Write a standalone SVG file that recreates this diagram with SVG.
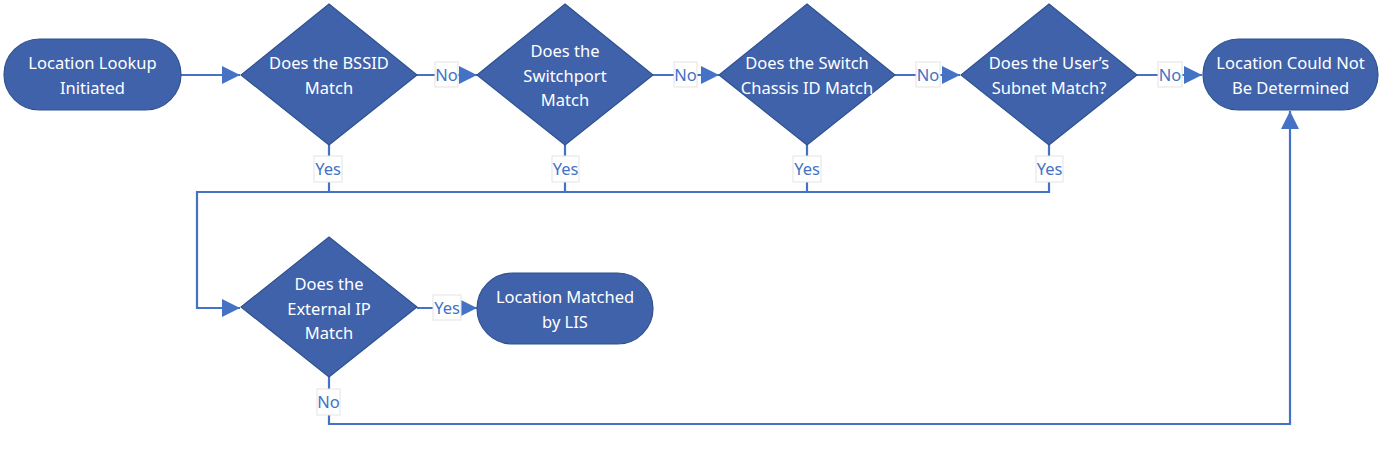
<svg xmlns="http://www.w3.org/2000/svg" width="1385" height="449" viewBox="0 0 1385 449">
<style>
.shape{fill:#3F62AB;stroke:#2F528F;stroke-width:1.2}
.t{fill:#fff;font-family:"Noto Sans","Open Sans",sans-serif;font-size:16.5px;text-anchor:middle}
.c{fill:none;stroke:#4472C4;stroke-width:2.2}
.lb{fill:#fff;stroke:#e3e3e3;stroke-width:1}
.lt{fill:#4472C4;font-family:"Noto Sans","Open Sans",sans-serif;font-size:16.5px;text-anchor:middle}
</style>
<defs>
<marker id="a" viewBox="0 0 18 18" refX="18" refY="9" markerWidth="18" markerHeight="18" markerUnits="userSpaceOnUse" orient="auto">
<path d="M0,0 L18,9 L0,18 z" fill="#4472C4"/>
</marker>
</defs>
<g id="connectors">
<path class="c" d="M181,75 H240" marker-end="url(#a)"/>
<path class="c" d="M417,75 H477" marker-end="url(#a)"/>
<path class="c" d="M653,75 H719" marker-end="url(#a)"/>
<path class="c" d="M895,75 H960" marker-end="url(#a)"/>
<path class="c" d="M1137,75 H1202" marker-end="url(#a)"/>
<path class="c" d="M329,145 V192"/>
<path class="c" d="M565,145 V192"/>
<path class="c" d="M807,145 V192"/>
<path class="c" d="M1049,145 V192 H197 V308 H240" marker-end="url(#a)"/>
<path class="c" d="M417,308 H477" marker-end="url(#a)"/>
<path class="c" d="M329,377 V424 H1290 V111" marker-end="url(#a)"/>
<rect class="lb" x="435" y="62" width="23" height="25"/><text class="lt" x="446.5" y="81">No</text>
<rect class="lb" x="674" y="62" width="23" height="25"/><text class="lt" x="685.5" y="81">No</text>
<rect class="lb" x="916" y="62" width="24" height="25"/><text class="lt" x="928" y="81">No</text>
<rect class="lb" x="1158" y="62" width="24" height="25"/><text class="lt" x="1170" y="81">No</text>
<rect class="lb" x="314" y="156" width="28" height="26"/><text class="lt" x="328" y="175">Yes</text>
<rect class="lb" x="552" y="156" width="27" height="26"/><text class="lt" x="565.5" y="175">Yes</text>
<rect class="lb" x="793" y="156" width="28" height="26"/><text class="lt" x="807" y="175">Yes</text>
<rect class="lb" x="1036" y="156" width="27" height="26"/><text class="lt" x="1049.5" y="175">Yes</text>
<rect class="lb" x="433" y="295" width="28" height="25"/><text class="lt" x="447" y="314">Yes</text>
<rect class="lb" x="317" y="389" width="23" height="26"/><text class="lt" x="328.5" y="408">No</text>
</g>
<g id="start">
<rect class="shape" x="4" y="39" width="177" height="71" rx="35.5"/>
<text class="t" x="92.5" y="69">Location Lookup</text>
<text class="t" x="92.5" y="94">Initiated</text>
</g>
<g id="bssid">
<polygon class="shape" points="329,4 417,75 329,145 241,75"/>
<text class="t" x="329" y="69">Does the BSSID</text>
<text class="t" x="329" y="94">Match</text>
</g>
<g id="switchport">
<polygon class="shape" points="565,4 653,75 565,145 477,75"/>
<text class="t" x="565" y="57">Does the</text>
<text class="t" x="565" y="82">Switchport</text>
<text class="t" x="565" y="106">Match</text>
</g>
<g id="chassis">
<polygon class="shape" points="807,4 895,75 807,145 719,75"/>
<text class="t" x="807" y="69">Does the Switch</text>
<text class="t" x="807" y="94">Chassis ID Match</text>
</g>
<g id="subnet">
<polygon class="shape" points="1049,4 1137,75 1049,145 961,75"/>
<text class="t" x="1049" y="69">Does the User’s</text>
<text class="t" x="1049" y="94">Subnet Match?</text>
</g>
<g id="notdetermined">
<rect class="shape" x="1203" y="39" width="175" height="71" rx="35.5"/>
<text class="t" x="1290.5" y="69">Location Could Not</text>
<text class="t" x="1290.5" y="94">Be Determined</text>
</g>
<g id="externalip">
<polygon class="shape" points="329,237 417,307 329,377 241,307"/>
<text class="t" x="329" y="290">Does the</text>
<text class="t" x="329" y="315">External IP</text>
<text class="t" x="329" y="339">Match</text>
</g>
<g id="matched">
<rect class="shape" x="477" y="273" width="176" height="71" rx="35.5"/>
<text class="t" x="565" y="303">Location Matched</text>
<text class="t" x="565" y="328">by LIS</text>
</g>
</svg>
